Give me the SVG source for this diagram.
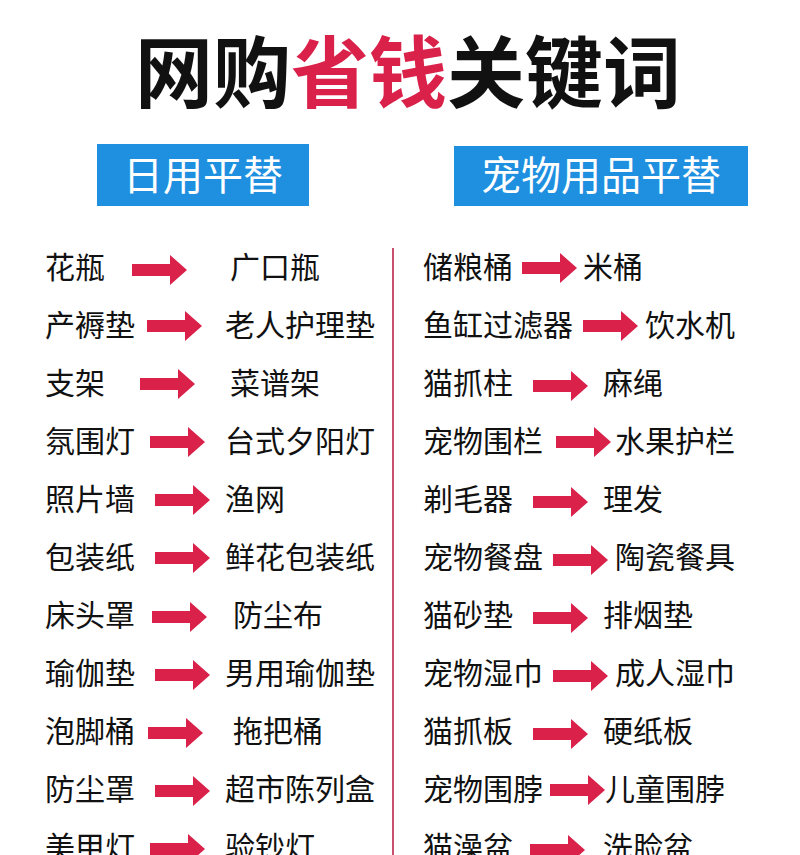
<svg xmlns="http://www.w3.org/2000/svg" width="800" height="855" viewBox="0 0 800 855">
<style>
text{font-family:"Noto Sans CJK SC",sans-serif;}
.t{font-size:30px;fill:#111;}
.h{font-size:40px;fill:#fff;text-anchor:middle;}
.a{fill:#d9214a;}
</style>
<defs><path id="ar" class="a" d="M0,-6 H38 V-15 L55,0 L38,15 V6 H0 Z"/></defs>
<rect width="800" height="855" fill="#fff"/>
<g id="title"><text x="408" y="102" font-size="78" font-weight="bold" text-anchor="middle" fill="#111">网购<tspan fill="#d9214a">省钱</tspan>关键词</text></g>
<g id="h1"><rect x="97" y="144" width="212" height="62" fill="#1f8fe0"/><text class="h" x="203" y="190">日用平替</text></g>
<g id="h2"><rect x="454" y="146" width="294" height="60" fill="#1f8fe0"/><text class="h" x="601" y="190">宠物用品平替</text></g>
<line x1="393" y1="248" x2="393" y2="855" stroke="#c8506e" stroke-width="2"/>
<g id="left" class="t">
<text x="45" y="278">花瓶</text><text x="230" y="278">广口瓶</text>
<text x="45" y="336">产褥垫</text><text x="225" y="336">老人护理垫</text>
<text x="45" y="394">支架</text><text x="230" y="394">菜谱架</text>
<text x="45" y="452">氛围灯</text><text x="225" y="452">台式夕阳灯</text>
<text x="45" y="510">照片墙</text><text x="225" y="510">渔网</text>
<text x="45" y="568">包装纸</text><text x="225" y="568">鲜花包装纸</text>
<text x="45" y="626">床头罩</text><text x="233" y="626">防尘布</text>
<text x="45" y="684">瑜伽垫</text><text x="225" y="684">男用瑜伽垫</text>
<text x="45" y="742">泡脚桶</text><text x="233" y="742">拖把桶</text>
<text x="45" y="800">防尘罩</text><text x="225" y="800">超市陈列盒</text>
<text x="45" y="858">美甲灯</text><text x="225" y="858">验钞灯</text>
</g>
<g id="right" class="t">
<text x="423" y="278">储粮桶</text><text x="583" y="278">米桶</text>
<text x="423" y="336">鱼缸过滤器</text><text x="645" y="336">饮水机</text>
<text x="423" y="394">猫抓柱</text><text x="603" y="394">麻绳</text>
<text x="423" y="452">宠物围栏</text><text x="615" y="452">水果护栏</text>
<text x="423" y="510">剃毛器</text><text x="603" y="510">理发</text>
<text x="423" y="568">宠物餐盘</text><text x="615" y="568">陶瓷餐具</text>
<text x="423" y="626">猫砂垫</text><text x="603" y="626">排烟垫</text>
<text x="423" y="684">宠物湿巾</text><text x="615" y="684">成人湿巾</text>
<text x="423" y="742">猫抓板</text><text x="603" y="742">硬纸板</text>
<text x="423" y="800">宠物围脖</text><text x="605" y="800">儿童围脖</text>
<text x="423" y="858">猫澡盆</text><text x="603" y="858">洗脸盆</text>
</g>
<g id="connectors">
<use href="#ar" x="132" y="270"/><use href="#ar" x="147" y="326"/><use href="#ar" x="140" y="384"/><use href="#ar" x="150" y="442"/><use href="#ar" x="155" y="500"/><use href="#ar" x="155" y="558"/><use href="#ar" x="152" y="617"/><use href="#ar" x="155" y="675"/><use href="#ar" x="148" y="733"/><use href="#ar" x="155" y="791"/><use href="#ar" x="150" y="849"/>
<use href="#ar" x="522" y="268"/><use href="#ar" x="583" y="326"/><use href="#ar" x="533" y="386"/><use href="#ar" x="556" y="442"/><use href="#ar" x="533" y="502"/><use href="#ar" x="553" y="560"/><use href="#ar" x="533" y="618"/><use href="#ar" x="553" y="676"/><use href="#ar" x="533" y="734"/><use href="#ar" x="550" y="790"/><use href="#ar" x="530" y="850"/>
</g>
</svg>
